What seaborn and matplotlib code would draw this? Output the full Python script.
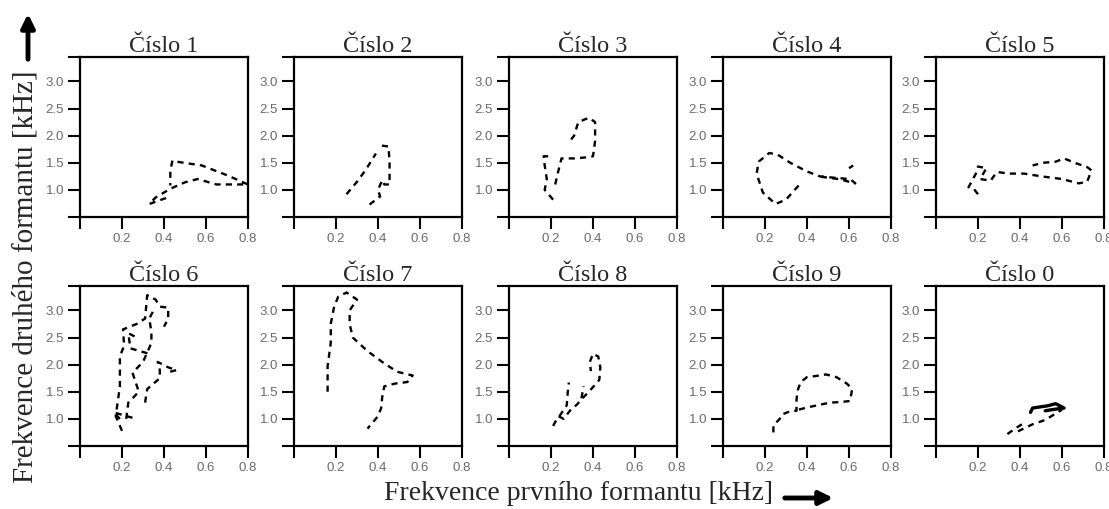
import pandas as pd
import seaborn as sns
import matplotlib.pyplot as plt
from matplotlib.patches import FancyArrowPatch

# formant trajectories (F1, F2 in kHz), several dashed strokes per digit
titles = ["Číslo 1", "Číslo 2", "Číslo 3", "Číslo 4", "Číslo 5",
          "Číslo 6", "Číslo 7", "Číslo 8", "Číslo 9", "Číslo 0"]

digit_1 = [
    [(0.41, 0.85), (0.33, 0.74), (0.36, 0.86), (0.43, 1.02), (0.50, 1.14), (0.56, 1.20),
     (0.65, 1.10), (0.80, 1.10), (0.70, 1.27), (0.58, 1.45), (0.46, 1.52), (0.44, 1.54),
     (0.43, 1.35), (0.43, 1.08)],
]
digit_2 = [
    [(0.25, 0.92), (0.30, 1.15), (0.34, 1.36), (0.39, 1.67)],
    [(0.36, 0.73), (0.41, 0.88), (0.40, 1.00), (0.42, 1.18), (0.43, 1.10), (0.455, 1.10),
     (0.455, 1.50), (0.45, 1.80), (0.41, 1.82)],
]
digit_3 = [
    [(0.21, 0.82), (0.17, 1.00), (0.18, 1.20), (0.17, 1.45), (0.165, 1.62), (0.21, 1.62)],
    [(0.22, 1.10), (0.235, 1.35), (0.25, 1.58), (0.31, 1.58), (0.37, 1.60), (0.40, 1.62),
     (0.41, 1.90), (0.41, 2.25), (0.38, 2.33), (0.33, 2.25), (0.31, 2.00), (0.29, 1.90)],
]
digit_4 = [
    [(0.36, 1.08), (0.30, 0.82), (0.25, 0.74), (0.19, 0.95), (0.16, 1.30), (0.17, 1.52),
     (0.22, 1.68), (0.26, 1.65), (0.32, 1.50), (0.40, 1.34), (0.46, 1.25), (0.54, 1.22),
     (0.605, 1.20), (0.63, 1.12), (0.60, 1.15), (0.55, 1.20), (0.47, 1.24)],
    [(0.60, 1.40), (0.62, 1.45)],
]
digit_5 = [
    [(0.20, 0.92), (0.18, 1.02), (0.155, 1.05), (0.19, 1.30), (0.20, 1.43), (0.24, 1.40),
     (0.21, 1.20), (0.26, 1.17), (0.29, 1.33), (0.35, 1.30), (0.42, 1.30), (0.50, 1.25),
     (0.60, 1.20), (0.68, 1.12), (0.72, 1.15), (0.74, 1.36), (0.72, 1.42), (0.66, 1.50),
     (0.61, 1.58), (0.57, 1.52), (0.51, 1.50), (0.46, 1.45)],
]
digit_6 = [
    [(0.20, 0.78), (0.17, 1.05), (0.19, 1.60), (0.19, 1.90), (0.19, 2.15), (0.21, 2.35),
     (0.205, 2.65), (0.27, 2.75), (0.31, 2.85), (0.32, 3.28), (0.36, 3.20), (0.38, 3.07),
     (0.42, 3.05), (0.42, 2.85), (0.40, 2.70)],
    [(0.22, 1.00), (0.23, 1.30), (0.28, 1.50), (0.25, 1.85), (0.30, 2.05), (0.34, 2.40),
     (0.34, 2.60), (0.33, 2.85), (0.35, 3.00)],
    [(0.31, 1.30), (0.32, 1.55), (0.38, 1.75), (0.38, 1.90), (0.37, 2.05), (0.42, 1.95),
     (0.46, 1.90), (0.41, 1.85)],
    [(0.25, 1.02), (0.16, 1.12), (0.19, 1.00)],
    [(0.26, 2.52), (0.23, 2.58), (0.24, 2.30), (0.33, 2.20)],
]
digit_7 = [
    [(0.16, 1.50), (0.16, 1.97), (0.175, 2.40), (0.175, 2.75), (0.19, 3.05), (0.21, 3.25),
     (0.25, 3.33), (0.30, 3.20), (0.265, 3.00), (0.265, 2.75), (0.28, 2.50), (0.35, 2.25),
     (0.42, 2.05), (0.49, 1.87), (0.565, 1.80), (0.54, 1.68), (0.48, 1.65), (0.43, 1.60),
     (0.42, 1.40), (0.415, 1.20), (0.40, 1.05), (0.35, 0.82)],
]
digit_8 = [
    [(0.21, 0.87), (0.235, 1.05), (0.26, 1.00), (0.30, 1.20), (0.32, 1.25), (0.35, 1.38),
     (0.38, 1.50), (0.41, 1.63), (0.43, 1.72), (0.435, 1.95), (0.425, 2.15), (0.40, 2.20),
     (0.385, 2.05), (0.39, 1.88)],
    [(0.24, 1.05), (0.275, 1.25), (0.28, 1.50), (0.285, 1.67)],
    [(0.345, 1.38), (0.355, 1.60)],
]
digit_9 = [
    [(0.24, 0.75), (0.24, 0.88), (0.27, 1.00), (0.28, 1.08), (0.32, 1.14), (0.35, 1.15),
     (0.35, 1.35), (0.355, 1.52), (0.37, 1.68), (0.40, 1.77), (0.46, 1.80), (0.49, 1.82),
     (0.54, 1.77), (0.59, 1.65), (0.615, 1.55), (0.605, 1.33), (0.56, 1.31), (0.51, 1.30),
     (0.46, 1.26), (0.40, 1.21), (0.35, 1.16)],
]
digit_0 = [
    [(0.34, 0.72), (0.38, 0.83), (0.43, 0.95)],
    [(0.39, 0.77), (0.46, 0.90), (0.52, 0.98), (0.60, 1.17)],
]
digit_0_solid = [(0.45, 1.12), (0.46, 1.20), (0.53, 1.24), (0.57, 1.28), (0.61, 1.20),
                 (0.57, 1.18), (0.52, 1.15)]

digits = [digit_1, digit_2, digit_3, digit_4, digit_5,
          digit_6, digit_7, digit_8, digit_9, digit_0]

x_ticks = [0, 0.2, 0.4, 0.6, 0.8]
x_labels = ["", "0.2", "0.4", "0.6", "0.8"]
y_ticks = [0.5, 1.0, 1.5, 2.0, 2.5, 3.0, 3.45]
y_labels = ["", "1.0", "1.5", "2.0", "2.5", "3.0", ""]

sns.set_style("ticks")
plt.rcParams["font.family"] = ["Liberation Sans", "DejaVu Sans"]

W, H = 1109, 509
fig = plt.figure(figsize=(W / 100, H / 100), dpi=100)

col_left = [80, 294, 509, 723, 936]
row_top = [57, 286]
ax_w, ax_h = 168, 160

for i, strokes in enumerate(digits):
    r, c = divmod(i, 5)
    ax = fig.add_axes([col_left[c] / W, 1 - (row_top[r] + ax_h) / H, ax_w / W, ax_h / H])
    rows = []
    for k, stroke in enumerate(strokes):
        for j, (x, y) in enumerate(stroke):
            rows.append({"f1": x, "f2": y, "stroke": k, "order": j})
    df = pd.DataFrame(rows)
    sns.lineplot(data=df, x="f1", y="f2", units="stroke", estimator=None, sort=False,
                 color="black", linewidth=1.7, linestyle=(0, (2.6, 2.2)), ax=ax)
    if i == 9:
        solid = pd.DataFrame(digit_0_solid, columns=["f1", "f2"])
        sns.lineplot(data=solid, x="f1", y="f2", estimator=None, sort=False,
                     color="black", linewidth=2.4, ax=ax)

    ax.set_xlim(0, 0.8)
    ax.set_ylim(0.5, 3.45)
    ax.set_xticks(x_ticks)
    ax.set_xticklabels(x_labels)
    ax.set_yticks(y_ticks)
    ax.set_yticklabels(y_labels)
    ax.tick_params(direction="out", length=8.5, width=1.5, colors="black",
                   labelcolor="#6a6a6a", labelsize=9.5, pad=3)
    for s in ax.spines.values():
        s.set_visible(True)
        s.set_linewidth(1.6)
        s.set_color("black")
    ax.set_xlabel("")
    ax.set_ylabel("")
    ax.set_title(titles[i], family=["Liberation Serif"], fontsize=17.5, pad=2)

fig.text(578 / W, 1 - 493 / H, "Frekvence prvního formantu [kHz]", family=["Liberation Serif"],
         fontsize=20, ha="center", va="center")
fig.text(26 / W, 1 - 277 / H, "Frekvence druhého formantu [kHz]", family=["Liberation Serif"],
         fontsize=21, ha="center", va="center", rotation=90)

fig.add_artist(FancyArrowPatch((28 / W, 1 - 62 / H), (28 / W, 1 - 11 / H),
                               transform=fig.transFigure, arrowstyle="-|>",
                               mutation_scale=20, linewidth=3.5, color="black"))
fig.add_artist(FancyArrowPatch((782 / W, 1 - 498 / H), (836 / W, 1 - 498 / H),
                               transform=fig.transFigure, arrowstyle="-|>",
                               mutation_scale=20, linewidth=3.5, color="black"))

fig.savefig("out.png", dpi=100, facecolor="white")
